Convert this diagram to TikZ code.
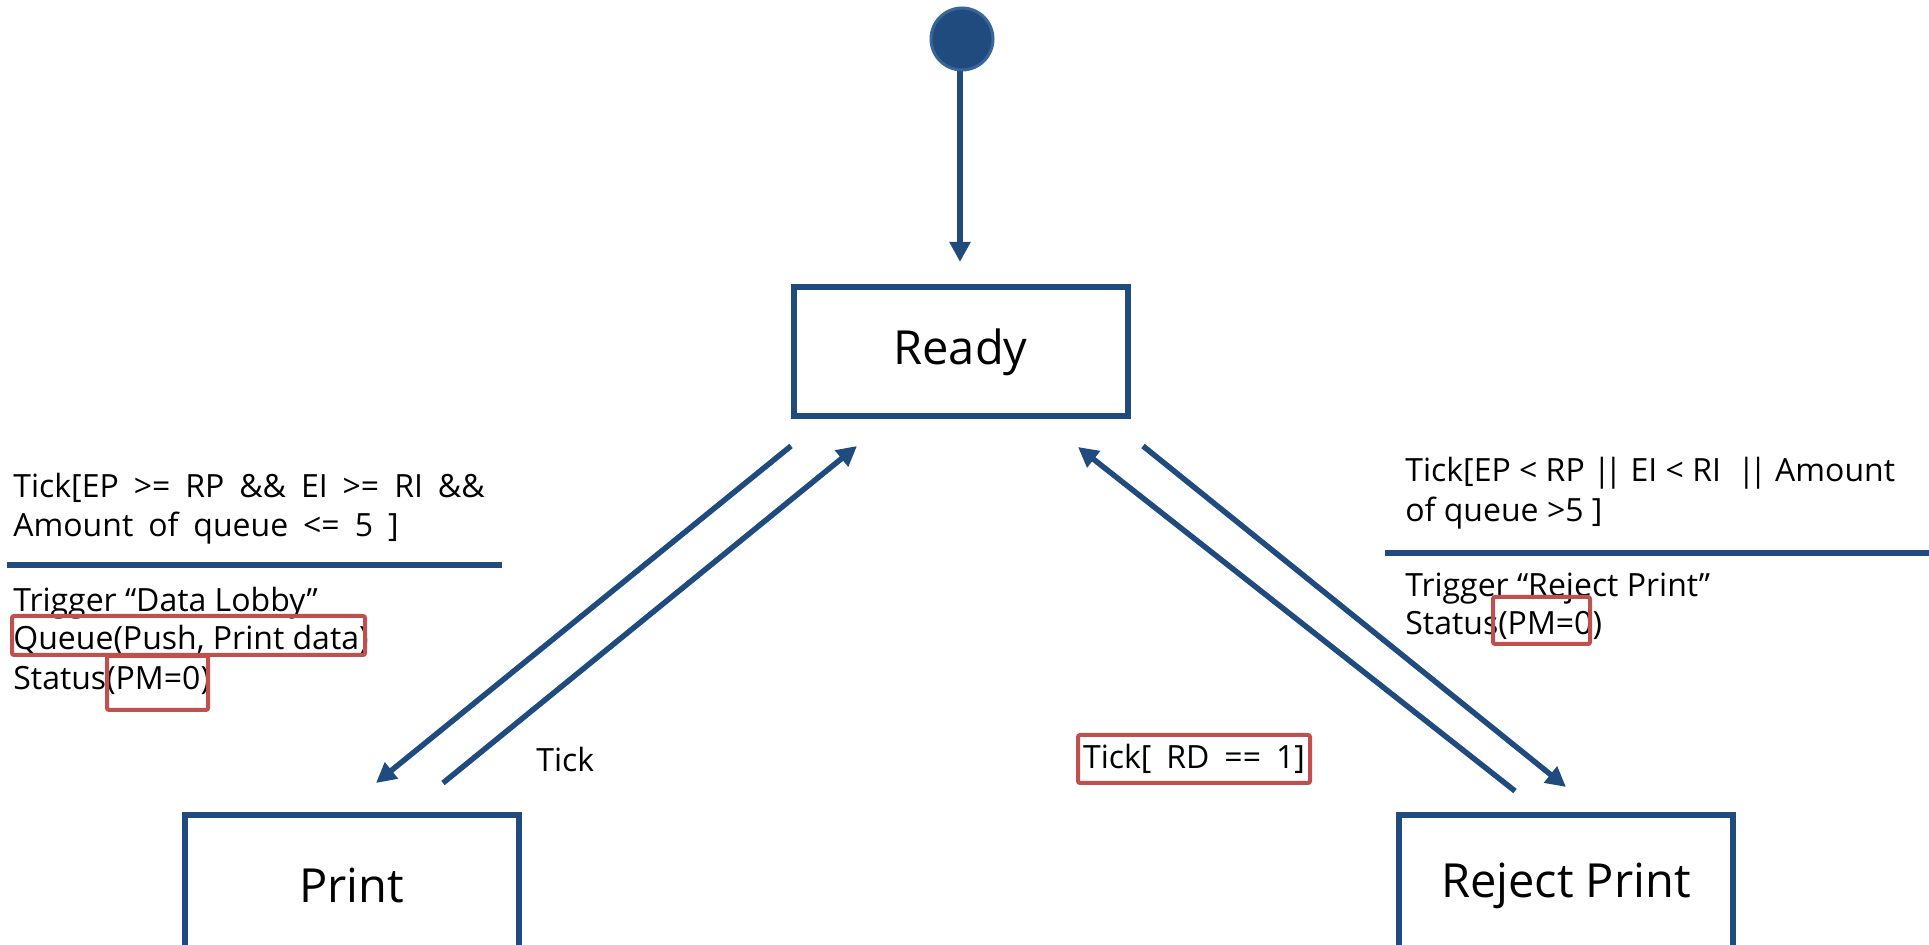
\documentclass[tikz,border=0pt]{standalone}
\usepackage{fontspec}
\setmainfont{Open Sans}
\newfontfamily\widefont[WordSpace=1.8]{Open Sans}
\usetikzlibrary{arrows.meta}
\definecolor{navy}{HTML}{1F4B7F}
\definecolor{lightnavy}{HTML}{3A6599}
\definecolor{redbox}{HTML}{C0504D}
\newcommand{\bars}{|\kern-3pt|}
\begin{document}
\begin{tikzpicture}[x=0.5pt,y=-0.5pt,
 state/.style={draw=navy, line width=3pt, minimum width=167pt, minimum height=64.5pt, font=\fontsize{23.5}{28}\selectfont, inner sep=0pt},
 conn/.style={draw=navy, line width=2.75pt, -{Triangle[length=10pt,width=10pt]}},
 lbl/.style={anchor=base west, inner sep=0pt, font=\fontsize{16}{19}\selectfont},
 redframe/.style={draw=redbox, line width=2pt, rounded corners=1pt},
 sep/.style={draw=navy, line width=2.75pt}]
\useasboundingbox (0,0) rectangle (1929,945);
\clip (0,0) rectangle (1929,945);

% initial state
\node[circle, fill=navy, draw=lightnavy, line width=1.5pt, minimum size=31pt, inner sep=0pt] (init) at (962,39) {};
% states
\node[state] (ready) at (960.5,352) {Ready};
\node[state, minimum height=70pt] (print) at (351.5,885.5) {Print};
\node[state, minimum height=70pt] (reject) at (1566,885.5) {Reject Print};

% connector end points
\coordinate (initTip) at (960,262);
\coordinate (rpS) at (791,446);
\coordinate (rpT) at (376,783);
\coordinate (prS) at (443,783);
\coordinate (prT) at (857,446);
\coordinate (rrS) at (1143,446);
\coordinate (rrT) at (1566,787);
\coordinate (jrS) at (1515,791);
\coordinate (jrT) at (1078,447);

\draw[conn] (init.south -| initTip) -- (initTip);
\draw[conn] (rpS) -- (rpT);
\draw[conn] (prS) -- (prT);
\draw[conn] (rrS) -- (rrT);
\draw[conn] (jrS) -- (jrT);

% left guard / action
\node[lbl] (lg1) at (13,498) {\widefont Tick[EP >= RP \&\& EI >= RI \&\&};
\node[lbl] (lg2) at (13,537) {\widefont Amount of queue <= 5 ]};
\coordinate (lsepA) at (7,565);
\coordinate (lsepB) at (502,565);
\draw[sep] (lsepA) -- (lsepB);
\node[lbl] (la1) at (13,612) {Trigger “Data Lobby”};
\node[lbl] (la2) at (13,650) {Queue(Push, Print data)};
\node[lbl] (la3) at (13,690) {Status(PM=0)};
\draw[redframe] (12,616) rectangle (365,655);
\draw[redframe] (107,656) rectangle (208,710);

% right guard / action
\node[lbl] (rg1) at (1405,482) {Tick[EP < RP \bars{} EI < RI ~\bars{} Amount};
\node[lbl] (rg2) at (1405,522) {of queue >5 ]};
\coordinate (rsepA) at (1385,553);
\coordinate (rsepB) at (1929,553);
\draw[sep] (rsepA) -- (rsepB);
\node[lbl] (ra1) at (1405,597) {Trigger “Reject Print”};
\node[lbl] (ra2) at (1405,635) {Status(PM=0)};
\draw[redframe] (1493,597) rectangle (1590,644);

% labels
\node[lbl] (tick) at (536,772) {Tick};
\node[redframe, font=\fontsize{16}{19}\selectfont, minimum width=116pt, minimum height=24pt, inner sep=0pt] (rd) at (1194,759) {\widefont Tick[ RD == 1]};
\end{tikzpicture}
\end{document}
